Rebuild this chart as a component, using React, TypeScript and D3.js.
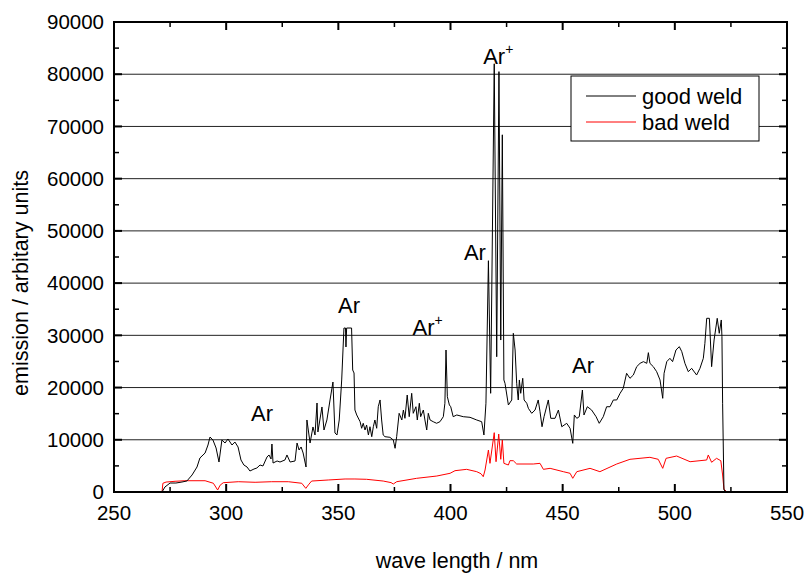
import React from "react";
import * as d3 from "d3";

// wavelength (nm), emission (arb. units)
const goodWeld: [number, number][] = [
  [264.3, 0], [271.4, 0], [272.7, 960], [275.0, 1720], [277.6, 1720], [280.3, 1910], [282.5, 2110],
  [284.8, 3260], [287.0, 4790], [288.3, 6510], [290.6, 7470], [291.9, 9000], [292.8, 10530],
  [294.1, 9960], [295.5, 8430], [296.8, 5740], [298.1, 9960], [299.5, 9380], [300.8, 10150],
  [302.6, 9000], [303.9, 9570], [305.3, 8620], [306.6, 6130], [307.9, 5170], [309.3, 4790],
  [310.6, 4020], [312.4, 4400], [313.7, 4600], [315.1, 5170], [316.4, 4980], [318.2, 6700],
  [319.1, 7090], [320.0, 6320], [320.4, 9190], [320.9, 5550], [322.7, 5940], [324.0, 5740],
  [326.2, 6130], [327.1, 7090], [328.5, 5740], [330.7, 5940], [331.6, 9380], [332.5, 8040],
  [333.4, 8620], [334.3, 7470], [335.6, 4790], [336.0, 13790], [337.4, 9380], [338.7, 12450],
  [339.6, 10920], [340.5, 17040], [340.9, 11490], [342.7, 16280], [343.6, 11870], [344.9, 13790],
  [346.3, 17620], [347.6, 21060], [348.5, 11300], [349.4, 10920], [350.4, 13790], [351.5, 21450],
  [352.5, 31400], [353.2, 31400], [353.4, 27770], [353.7, 31400], [355.9, 31400], [356.4, 23360],
  [357.0, 22790], [357.4, 15700], [358.2, 14750], [359.7, 13460], [360.4, 12200], [361.1, 13160],
  [361.9, 11870], [362.6, 12830], [363.4, 10920], [364.1, 12500], [364.9, 10590], [365.6, 12500],
  [366.3, 13790], [367.1, 12200], [367.8, 16330], [368.6, 17620], [369.3, 13790], [370.0, 10920],
  [370.8, 10590], [373.0, 10470], [374.5, 9960], [375.3, 8370], [376.0, 10590], [377.1, 15070],
  [378.3, 13790], [379.0, 15700], [379.7, 14110], [380.7, 18570], [381.6, 14420], [382.7, 18900],
  [383.4, 15070], [384.6, 16330], [385.2, 13790], [386.1, 16990], [386.7, 14420], [387.9, 15700],
  [388.6, 13790], [389.4, 11870], [390.1, 15070], [390.9, 13790], [392.3, 13460], [393.8, 13160],
  [395.3, 13460], [396.8, 14420], [397.5, 16990], [398.0, 27190], [398.6, 18250], [399.5, 16660],
  [400.1, 16330], [401.2, 14420], [402.8, 14750], [405.7, 14420], [408.7, 14300], [411.7, 13790],
  [413.9, 13460], [414.9, 10920], [415.8, 17000], [416.9, 44290], [417.9, 18900], [419.5, 82000],
  [420.6, 25900], [421.6, 80500], [422.4, 29100], [423.1, 68400], [423.8, 21450], [424.3, 20810],
  [425.8, 16660], [427.3, 17620], [428.0, 30390], [428.8, 27190], [429.5, 20810], [430.2, 17620],
  [430.7, 21450], [431.3, 18900], [432.2, 21770], [432.8, 17620], [434.0, 16990], [434.7, 16030],
  [436.2, 15070], [437.7, 15700], [439.1, 17620], [439.9, 15400], [440.8, 12500], [441.7, 14420],
  [443.6, 17620], [444.7, 14110], [446.6, 14110], [448.1, 15700], [449.6, 12500], [451.8, 13150],
  [453.3, 12200], [454.5, 9320], [455.2, 14750], [456.3, 14110], [457.4, 14420], [458.8, 19530],
  [459.5, 14750], [461.0, 16330], [462.9, 15700], [464.9, 14420], [466.3, 13150], [468.1, 14420],
  [469.6, 16330], [471.1, 16330], [472.6, 17620], [474.1, 17620], [475.6, 18900], [477.0, 19850],
  [478.5, 22730], [480.0, 21770], [481.5, 22400], [483.0, 24000], [484.5, 24640], [486.0, 24960],
  [487.5, 24640], [488.2, 26680], [488.9, 24640], [490.4, 24000], [491.9, 23040], [493.4, 21450],
  [494.6, 17940], [495.2, 22730], [496.4, 24960], [497.8, 25600], [499.0, 24960], [500.5, 27190],
  [502.0, 27830], [503.1, 26870], [504.5, 24640], [506.0, 23040], [507.5, 23680], [509.7, 22400],
  [511.2, 23680], [512.7, 25600], [513.4, 28470], [514.2, 33260], [515.4, 33260], [516.4, 24000],
  [517.5, 29110], [518.9, 33260], [519.8, 30390], [520.7, 32940], [521.0, 29740], [521.3, 17000],
  [521.9, 380], [523.1, 0], [533.5, 0],
];

const badWeld: [number, number][] = [
  [264.3, 0], [271.4, 0], [271.8, 1670], [273.2, 1900], [277.2, 2050], [281.6, 2160], [290.6, 2160],
  [294.3, 1670], [296.2, 380], [297.3, 1300], [298.7, 1780], [305.4, 1970], [312.9, 1860],
  [320.3, 1970], [327.7, 1970], [333.7, 1670], [335.5, 700], [336.9, 1500], [338.1, 2100],
  [345.5, 2300], [353.0, 2490], [357.4, 2490], [362.6, 2430], [370.0, 2100], [373.5, 1800],
  [374.5, 1530], [376.0, 1970], [384.9, 2620], [393.9, 3060], [399.8, 3580], [402.0, 4080],
  [407.2, 4340], [411.7, 3890], [413.6, 3500], [414.6, 2930], [415.4, 4210], [416.9, 8040],
  [417.6, 5490], [419.5, 11360], [420.3, 5800], [421.5, 11100], [422.4, 6260], [423.1, 9960],
  [423.8, 5490], [425.8, 5170], [426.5, 6000], [428.0, 5990], [429.5, 5360], [436.9, 5360],
  [439.9, 5490], [441.4, 4340], [444.4, 4530], [450.3, 3890], [453.3, 3580], [454.5, 2620],
  [456.3, 3890], [462.2, 4530], [466.6, 3890], [474.1, 5360], [480.0, 6260], [488.9, 6640],
  [492.6, 6260], [494.6, 4530], [496.1, 6450], [500.8, 6890], [506.8, 5800], [514.2, 6130],
  [514.9, 7090], [516.4, 5690], [518.6, 6450], [520.5, 5990], [521.3, 3260], [521.9, 520],
  [523.1, 60], [533.5, 0],
];

const xTicks = [250, 300, 350, 400, 450, 500, 550];
const yTicks = [0, 10000, 20000, 30000, 40000, 50000, 60000, 70000, 80000, 90000];

// peak labels: [nm, value, text, ion?]
const peakLabels: [number, number, string, boolean][] = [
  [316, 13600, "Ar", false],
  [354.8, 34300, "Ar", false],
  [389.8, 30100, "Ar", true],
  [410.9, 44400, "Ar", false],
  [421.3, 82000, "Ar", true],
  [459.1, 22800, "Ar", false],
];

const seriesNames = ["good weld", "bad weld"];
const seriesColors = ["#000000", "#ff0000"];

const W = 808;
const H = 574;
const margin = { top: 22, right: 21, bottom: 82, left: 114 };
const font = "'Liberation Sans', Arial, sans-serif";

export default function App() {
  const x = d3.scaleLinear().domain([250, 550]).range([margin.left, W - margin.right]);
  const y = d3.scaleLinear().domain([0, 90000]).range([H - margin.bottom, margin.top]);

  const line = d3
    .line<[number, number]>()
    .x((d) => x(d[0]))
    .y((d) => y(d[1]));

  const x0 = x(250), x1 = x(550), y0 = y(0), y1 = y(90000);
  const xMinor = d3.range(275, 550, 50);
  const yMinor = d3.range(5000, 90000, 10000);

  return (
    <svg
      width={W}
      height={H}
      style={{ position: "absolute", left: 0, top: 0, background: "#fff" }}
      fontFamily={font}
    >
      {/* grid */}
      {yTicks.slice(1, -1).map((t) => (
        <line key={t} x1={x0} x2={x1} y1={y(t)} y2={y(t)} stroke="#222" strokeWidth={1} />
      ))}

      {/* series */}
      <path d={line(badWeld) ?? ""} fill="none" stroke={seriesColors[1]} strokeWidth={1} />
      <path d={line(goodWeld) ?? ""} fill="none" stroke={seriesColors[0]} strokeWidth={1} />

      {/* frame */}
      <rect x={x0} y={y1} width={x1 - x0} height={y0 - y1} fill="none" stroke="#000" strokeWidth={2} />

      {/* ticks */}
      {xTicks.map((t) => (
        <g key={"xt" + t}>
          <line x1={x(t)} x2={x(t)} y1={y0} y2={y0 - 8} stroke="#000" strokeWidth={2} />
          <line x1={x(t)} x2={x(t)} y1={y1} y2={y1 + 8} stroke="#000" strokeWidth={2} />
          <text x={x(t)} y={y0 + 28} textAnchor="middle" fontSize={20.5}>
            {t}
          </text>
        </g>
      ))}
      {xMinor.map((t) => (
        <g key={"xm" + t}>
          <line x1={x(t)} x2={x(t)} y1={y0} y2={y0 - 5} stroke="#000" strokeWidth={1.5} />
          <line x1={x(t)} x2={x(t)} y1={y1} y2={y1 + 5} stroke="#000" strokeWidth={1.5} />
        </g>
      ))}
      {yTicks.map((t) => (
        <g key={"yt" + t}>
          <line x1={x0} x2={x0 + 8} y1={y(t)} y2={y(t)} stroke="#000" strokeWidth={2} />
          <line x1={x1} x2={x1 - 8} y1={y(t)} y2={y(t)} stroke="#000" strokeWidth={2} />
          <text x={x0 - 10} y={y(t)} dy="0.35em" textAnchor="end" fontSize={20.5}>
            {t}
          </text>
        </g>
      ))}
      {yMinor.map((t) => (
        <g key={"ym" + t}>
          <line x1={x0} x2={x0 + 5} y1={y(t)} y2={y(t)} stroke="#000" strokeWidth={1.5} />
          <line x1={x1} x2={x1 - 5} y1={y(t)} y2={y(t)} stroke="#000" strokeWidth={1.5} />
        </g>
      ))}

      {/* axis titles */}
      <text x={457} y={568} textAnchor="middle" fontSize={21.5}>
        wave length / nm
      </text>
      <text
        transform={`translate(28, 283) rotate(-90)`}
        textAnchor="middle"
        fontSize={21.5}
      >
        emission / arbitary units
      </text>

      {/* peak labels */}
      {peakLabels.map(([nm, v, label, ion]) => (
        <text key={nm} x={x(nm)} y={y(v)} textAnchor="middle" fontSize={22}>
          {label}
          {ion && (
            <tspan fontSize={14} dy={-10}>
              +
            </tspan>
          )}
        </text>
      ))}

      {/* legend */}
      <g>
        <rect x={571} y={76} width={188} height={65} fill="#fff" stroke="#000" strokeWidth={1} />
        {seriesNames.map((name, i) => (
          <g key={name} transform={`translate(586, ${96 + i * 26})`}>
            <line x1={0} x2={50} y1={0} y2={0} stroke={seriesColors[i]} strokeWidth={1} />
            <text x={56} y={0} dy="0.35em" fontSize={22}>
              {name}
            </text>
          </g>
        ))}
      </g>
    </svg>
  );
}
